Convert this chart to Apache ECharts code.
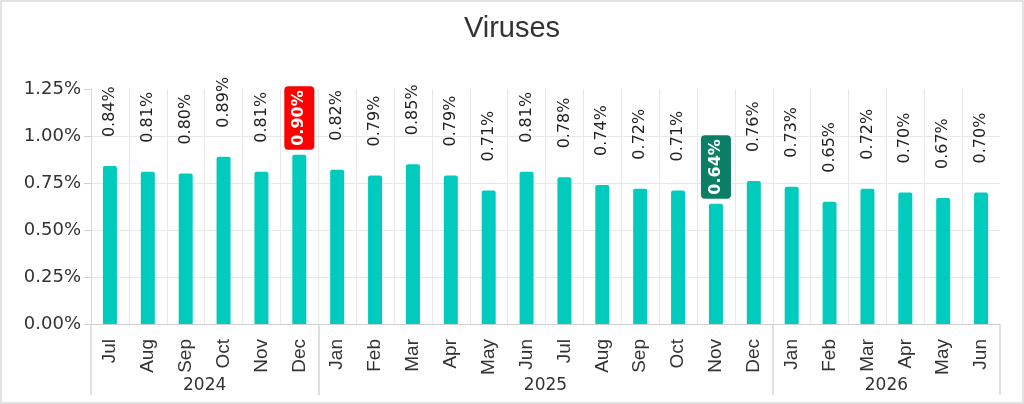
<!DOCTYPE html>
<html>
<head>
<meta charset="utf-8">
<script src="https://cdn.jsdelivr.net/npm/echarts@6/dist/echarts.min.js"></script>
<style>
  html, body { margin: 0; padding: 0; background: #fff; }
  #frame {
    position: absolute; left: 0; top: 0;
    width: 1024px; height: 404px;
    box-sizing: border-box;
    border: 2px solid #e2e2e2;
  }
  #chart { width: 1020px; height: 400px; }
</style>
</head>
<body>
<div id="frame"><div id="chart"></div></div>
<script>
// months along the axis, grouped by year
const months = ['Jul','Aug','Sep','Oct','Nov','Dec',
                'Jan','Feb','Mar','Apr','May','Jun','Jul','Aug','Sep','Oct','Nov','Dec',
                'Jan','Feb','Mar','Apr','May','Jun'];
const years = ['2024', '2025', '2026'];
const yearCounts = [6, 12, 6];
// share of tests positive, in percent
const values = [0.84, 0.81, 0.80, 0.89, 0.81, 0.90,
                0.82, 0.79, 0.85, 0.79, 0.71, 0.81, 0.78, 0.74, 0.72, 0.71, 0.64, 0.76,
                0.73, 0.65, 0.72, 0.70, 0.67, 0.70];
const yTicks = [0, 0.25, 0.5, 0.75, 1.0, 1.25];
// max and min get a coloured badge
const highIdx = 5;
const lowIdx = 16;

const BAR = '#00cbbd';
const FONT = 'DejaVu Sans';

// year boundaries and year centres on a 0..n scale
const bounds = [0];
const centres = [];
yearCounts.forEach(function(c) {
  let b = bounds[bounds.length - 1];
  centres.push(b + c / 2);
  bounds.push(b + c);
});

const chart = echarts.init(document.getElementById('chart'), null, {renderer: 'canvas'});

function badge(color) {
  return {
    distance: 5,
    color: '#fff',
    fontWeight: 'bold',
    backgroundColor: color,
    borderRadius: 4,
    lineHeight: 18,
    padding: [7, 4, 5, 4],
  };
}

const data = values.map(function(v, i) {
  if (i === highIdx) return {value: v, label: badge('#ff0000')};
  if (i === lowIdx) return {value: v, label: badge('#0a7f66')};
  return v;
});

chart.setOption({
  animation: false,
  title: {
    text: 'Viruses',
    left: 'center',
    top: 7,
    textStyle: { fontFamily: 'Liberation Sans', fontSize: 29, fontWeight: 'normal', color: '#333' },
  },
  grid: { left: 89, right: 22, top: 87, bottom: 78 },
  xAxis: [{
    type: 'category',
    data: months,
    axisLine: { lineStyle: { color: '#cfcfcf', width: 1 } },
    axisTick: { alignWithLabel: true, length: 7, lineStyle: { color: '#cfcfcf' } },
    axisLabel: {
      interval: 0, rotate: 90, margin: 15,
      fontFamily: 'Liberation Sans', fontSize: 19, color: '#333',
    },
    splitLine: { show: true, interval: 0, showMaxLine: false, lineStyle: { color: '#e8e8e8' } },
  }, {
    type: 'value',
    position: 'bottom',
    min: 0,
    max: months.length,
    axisLine: { show: false },
    splitLine: { show: false },
    axisTick: {
      show: true, length: 71, customValues: bounds,
      lineStyle: { color: '#d6d6d6', width: 1.5 },
    },
    axisLabel: {
      customValues: centres, margin: 53,
      fontFamily: FONT, fontSize: 17, color: '#333',
      formatter: function(v) {
        let i = centres.indexOf(v);
        return i < 0 ? '' : years[i];
      },
    },
  }],
  yAxis: {
    type: 'value',
    min: yTicks[0],
    max: yTicks[yTicks.length - 1],
    interval: yTicks[1] - yTicks[0],
    axisLine: { show: true, lineStyle: { color: '#d6d6d6' } },
    axisTick: { show: true, length: 7, lineStyle: { color: '#cfcfcf' } },
    axisLabel: {
      margin: 10, fontFamily: FONT, fontSize: 18, color: '#333',
      formatter: function(v) { return v.toFixed(2) + '%'; },
    },
    splitLine: { showMaxLine: false, lineStyle: { color: '#e8e8e8' } },
  },
  series: [{
    type: 'bar',
    xAxisIndex: 0,
    data: data,
    barWidth: 14,
    itemStyle: { color: BAR, borderRadius: [2, 2, 0, 0] },
    label: {
      show: true,
      position: 'top',
      rotate: 90,
      align: 'left',
      verticalAlign: 'middle',
      distance: 29,
      fontFamily: FONT,
      fontSize: 16,
      color: '#222',
      formatter: function(p) { return p.value.toFixed(2) + '%'; },
    },
  }],
});
</script>
</body>
</html>
